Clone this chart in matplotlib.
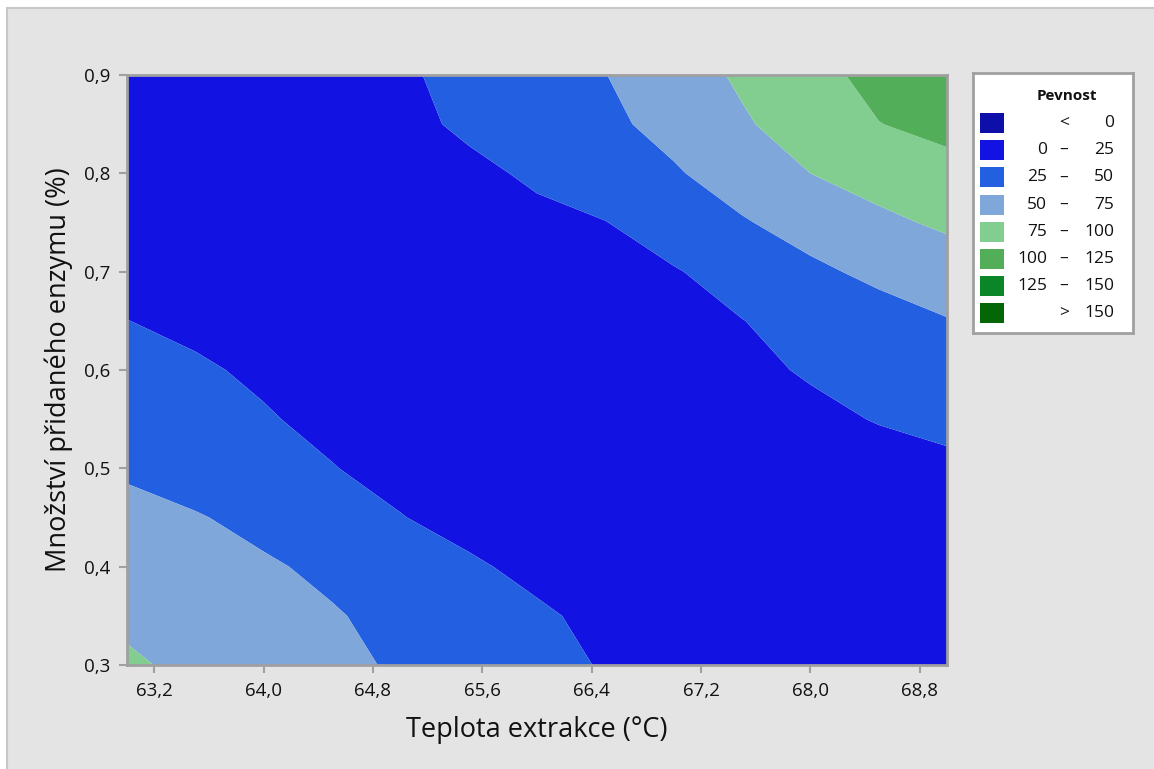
import numpy as np
import matplotlib
matplotlib.use("Agg")
import matplotlib.pyplot as plt
from matplotlib.patches import Rectangle

plt.rcParams['font.family'] = ['Open Sans', 'DejaVu Sans']

# ---- data ----
teplota = [63.0, 63.5, 64.0, 64.5, 65.0, 65.5, 66.0, 66.5, 67.0, 67.5, 68.0, 68.5, 69.0]
enzym = [0.30, 0.35, 0.40, 0.45, 0.50, 0.55, 0.60, 0.65, 0.70, 0.75, 0.80, 0.85, 0.90]
# Pevnost, one row per enzym value (bottom to top), columns follow teplota
pevnost = [
    [78.0, 70.3, 62.7, 55.2, 47.4, 39.4, 31.4, 23.5, 19.0, 16.0, 13.5, 12.0, 11.0],
    [71.0, 64.6, 58.1, 51.7, 44.0, 36.0, 27.9, 20.0, 16.5, 14.5, 13.0, 12.3, 12.0],
    [63.0, 57.8, 52.6, 45.6, 36.7, 27.8, 20.0, 16.5, 14.0, 13.0, 12.5, 13.0, 14.0],
    [55.5, 51.5, 44.1, 34.9, 25.7, 18.5, 15.0, 13.0, 12.0, 12.0, 13.0, 15.0, 17.0],
    [47.5, 40.2, 33.0, 25.7, 19.0, 15.5, 13.0, 12.0, 12.0, 12.5, 14.5, 17.5, 21.0],
    [40.0, 33.3, 26.6, 20.4, 17.0, 14.5, 13.0, 12.5, 13.0, 15.0, 20.5, 26.0, 29.9],
    [32.5, 27.4, 22.0, 18.5, 16.0, 14.5, 14.0, 14.5, 16.5, 20.5, 26.9, 33.1, 39.4],
    [25.2, 21.0, 18.5, 17.0, 16.0, 15.5, 16.0, 17.5, 20.5, 24.6, 32.5, 40.7, 48.9],
    [19.0, 17.0, 15.5, 15.0, 15.0, 15.5, 17.0, 19.5, 23.5, 33.7, 45.5, 55.2, 63.6],
    [14.0, 13.5, 13.5, 14.0, 15.5, 17.5, 20.5, 24.5, 36.1, 48.1, 59.3, 70.4, 78.6],
    [10.0, 10.0, 11.0, 13.0, 16.0, 20.5, 28.1, 37.9, 47.7, 60.8, 75.0, 83.8, 92.5],
    [8.0, 8.5, 10.0, 13.5, 19.5, 28.5, 37.0, 45.4, 57.0, 72.3, 86.0, 99.5, 106.6],
    [7.0, 8.0, 10.0, 15.0, 22.0, 31.2, 40.4, 49.6, 64.0, 78.4, 92.6, 106.8, 121.0],
]
hranice = [0, 25, 50, 75, 100, 125, 150]
barvy = ['#0E0EA8', '#1212E3', '#235FE1', '#7FA7D9', '#82CD90', '#52AE58', '#0A8628', '#056605']
x_ticks = [63.2, 64.0, 64.8, 65.6, 66.4, 67.2, 68.0, 68.8]
y_ticks = [0.3, 0.4, 0.5, 0.6, 0.7, 0.8, 0.9]

W, H = 1154, 769
fig = plt.figure(figsize=(W / 100, H / 100), dpi=100, facecolor='white')

# outer Minitab-like frame
fig.patches.append(Rectangle((7 / W, -0.2), 1.2, 1.2 - 8 / H, transform=fig.transFigure,
                             facecolor='#E4E4E4', edgecolor='#C8C8C8', linewidth=1.5, zorder=-5))

ax = fig.add_axes([127 / W, 1 - 665 / H, (947 - 127) / W, (665 - 75) / H])
levels = [-1e6] + hranice + [1e6]
ax.contourf(teplota, enzym, np.array(pevnost), levels=levels, colors=barvy, antialiased=True)
ax.set_xlim(63.0, 69.0)
ax.set_ylim(0.3, 0.9)
ax.set_xticks(x_ticks)
ax.set_yticks(y_ticks)
ax.set_xticklabels([f"{v:.1f}".replace('.', ',') for v in x_ticks])
ax.set_yticklabels([f"{v:.1f}".replace('.', ',') for v in y_ticks])
for s in ax.spines.values():
    s.set_color('#A0A0A0')
    s.set_linewidth(2)
ax.tick_params(direction='out', length=6, width=1.5, color='#A0A0A0', labelsize=13.5,
               labelcolor='#111111', pad=6)
ax.set_xlabel('Teplota extrakce (°C)', fontsize=19.5, color='#111111', labelpad=12)
ax.set_ylabel('Množství přidaného enzymu (%)', fontsize=19.5, color='#111111', labelpad=8)

# legend box
lax = fig.add_axes([973 / W, 1 - 333 / H, (1133 - 973) / W, (333 - 73) / H])
lax.set_xlim(973, 1133)
lax.set_ylim(333, 73)
lax.set_xticks([])
lax.set_yticks([])
lax.set_facecolor('white')
for s in lax.spines.values():
    s.set_color('#A0A0A0')
    s.set_linewidth(2)
lax.text(1067, 96, 'Pevnost', ha='center', va='center', fontsize=11, fontweight='bold', color='#111111')
labels = []
labels.append(('', '<', str(hranice[0])))
for a, b in zip(hranice[:-1], hranice[1:]):
    labels.append((str(a), '–', str(b)))
labels.append(('', '>', str(hranice[-1])))
for i, (c, (l, m, r)) in enumerate(zip(barvy, labels)):
    yc = 123 + i * 27.2
    lax.add_patch(Rectangle((980, yc - 10), 24, 20, facecolor=c, edgecolor='none'))
    if l:
        lax.text(1047, yc, l, ha='right', va='center', fontsize=12.5, color='#111111')
    lax.text(1064, yc, m, ha='center', va='center', fontsize=12.5, color='#111111')
    lax.text(1114, yc, r, ha='right', va='center', fontsize=12.5, color='#111111')

fig.savefig('out.png', dpi=100, facecolor=fig.get_facecolor())
